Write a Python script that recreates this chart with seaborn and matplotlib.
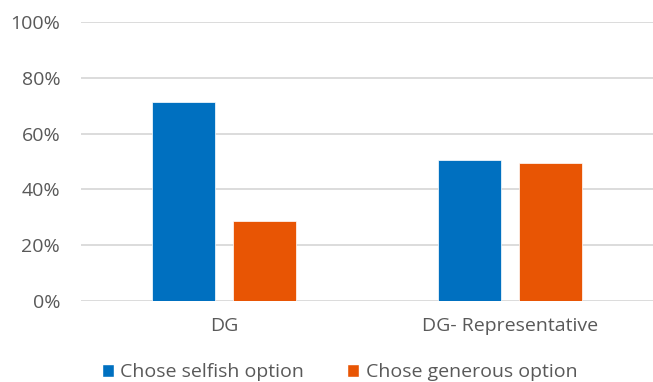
import matplotlib
matplotlib.use("Agg")
import matplotlib.pyplot as plt
import seaborn as sns
import pandas as pd
from matplotlib.patches import Patch

categories = ["DG", "DG- Representative"]
series = ["Chose selfish option", "Chose generous option"]
selfish = [71.5, 50.6]
generous = [28.5, 49.4]
colors = ["#0070C0", "#E85504"]

df = pd.DataFrame({
    "cat": categories * 2,
    "series": [series[0]] * 2 + [series[1]] * 2,
    "val": selfish + generous,
})

sns.set_theme(style="white")
plt.rcParams["font.family"] = ["Open Sans", "DejaVu Sans"]
txt = "#595959"

fig = plt.figure(figsize=(6.53, 3.82), dpi=100)
ax = fig.add_axes([0.124, 0.213, 0.876, 0.729])
sns.barplot(data=df, x="cat", y="val", hue="series", palette=colors,
            saturation=1, width=0.5625, gap=0.22, ax=ax, legend=False,
            edgecolor="#FFFFFF", linewidth=0.5, errorbar=None)
ax.set_ylim(0, 100)
ax.set_xlim(-0.5, 1.5)
ax.set_yticks(range(0, 101, 20))
ax.set_yticklabels([f"{v}%" for v in range(0, 101, 20)])
ax.yaxis.grid(True, color="#D9D9D9", linewidth=1.3)
ax.set_axisbelow(True)
for s in ax.spines.values():
    s.set_visible(False)
ax.tick_params(axis="both", length=0, labelsize=14, colors=txt)
ax.tick_params(axis="x", pad=12)
ax.tick_params(axis="y", pad=15)
ax.set_xlabel("")
ax.set_ylabel("")

handles = [Patch(facecolor=c, label=s) for c, s in zip(colors, series)]
fig.legend(handles=handles, loc="center", bbox_to_anchor=(0.52, 0.025),
           ncol=2, frameon=False, fontsize=14, labelcolor=txt,
           handlelength=0.6, handleheight=0.6, handletextpad=0.35,
           columnspacing=2.2)

fig.savefig("out.png", dpi=100)
